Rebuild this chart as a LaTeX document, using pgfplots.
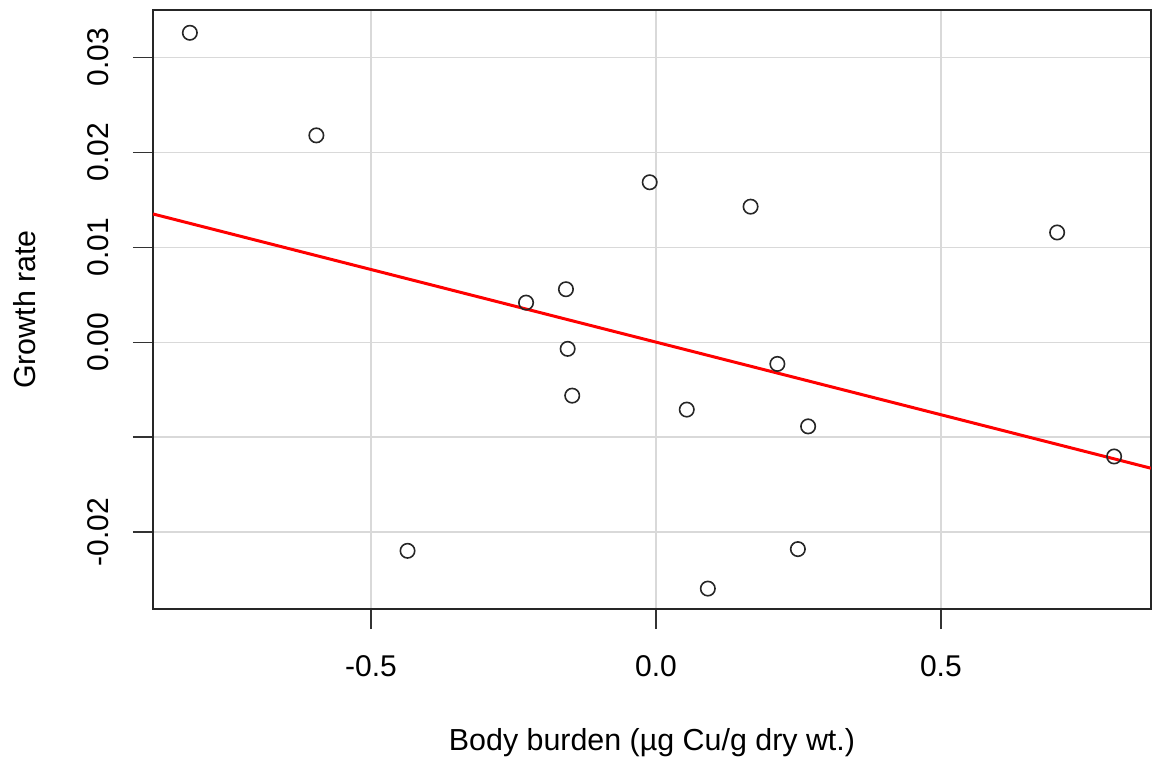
\documentclass[border=0pt]{standalone}
\usepackage{pgfplots}
\pgfplotsset{compat=1.18}
\usepackage{fontspec}
\setmainfont{Liberation Sans}

\begin{document}
\begin{tikzpicture}
\path[use as bounding box] (-76.5bp,-76bp) rectangle (500bp,304.5bp);
\begin{axis}[
  at={(0,0)}, anchor=south west,
  scale only axis, width=499bp, height=299.5bp,
  xmin=-0.8827, xmax=0.8687, ymin=-0.02812, ymax=0.03499,
  xtick={-0.5,0,0.5}, xticklabels={-0.5,0.0,0.5},
  ytick={-0.02,-0.01,0,0.01,0.02,0.03},
  yticklabels={-0.02,,0.00,0.01,0.02,0.03},
  scaled x ticks=false, scaled y ticks=false,
  xtick pos=left, ytick pos=left,
  tick align=outside, major tick length=10bp,
  tick style={line width=0.6bp, color=black!80},
  grid=major, major grid style={line width=0.6bp, color=black!15},
  axis line style={line width=1bp, color=black!85},
  /pgf/number format/assume math mode=true,
  every tick label/.append style={font=\fontsize{15bp}{18bp}\selectfont, inner sep=0pt},
  xticklabel style={anchor=base},
  xticklabel shift=23.5bp,
  yticklabel style={rotate=90, anchor=base},
  yticklabel shift=12bp,
  label style={font=\fontsize{15.2bp}{18bp}\selectfont, inner sep=0pt},
  xlabel={Body burden (µg Cu/g dry wt.)},
  xlabel style={at={(axis description cs:0.5,-0.2354)}, anchor=base},
  ylabel={Growth rate},
  ylabel style={at={(axis description cs:-0.1182,0.5)}, rotate=0, anchor=base},
  clip=true,
]
\addplot[only marks, mark=o, mark size=3.6bp, mark options={line width=0.8bp, draw=black!85}]
  coordinates {
  (-0.818, 0.03259)
  (-0.596, 0.02178)
  (-0.436, -0.02199)
  (-0.228, 0.00416)
  (-0.158, 0.00557)
  (-0.155, -0.00071)
  (-0.147, -0.00564)
  (-0.011, 0.01684)
  (0.054, -0.00711)
  (0.091, -0.02597)
  (0.166, 0.01427)
  (0.213, -0.00230)
  (0.249, -0.02181)
  (0.267, -0.00888)
  (0.704, 0.01155)
  (0.804, -0.01205)
  };
\addplot[color=red, line width=1.5bp] coordinates {(-0.8827,0.01350) (0.8687,-0.01329)};
\end{axis}
\end{tikzpicture}
\end{document}
